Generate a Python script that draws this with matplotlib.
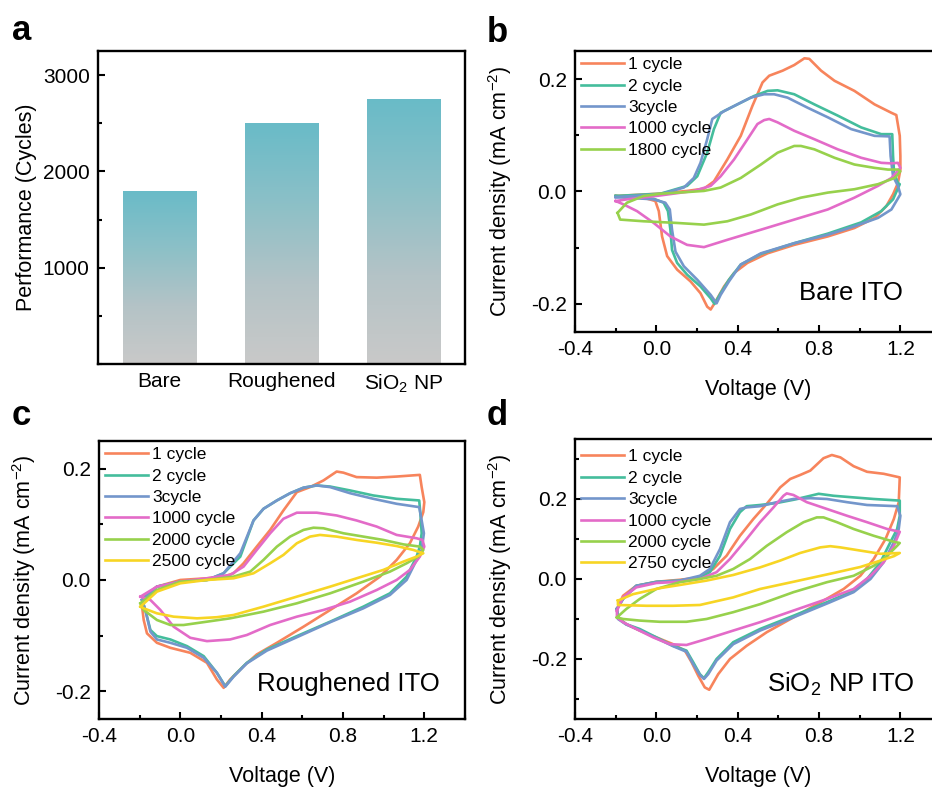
import numpy as np
import matplotlib
matplotlib.use("Agg")
import matplotlib.pyplot as plt
from matplotlib.colors import LinearSegmentedColormap
from matplotlib.ticker import MultipleLocator, FormatStrFormatter

plt.rcParams['font.family'] = ['Liberation Sans', 'DejaVu Sans']
plt.rcParams['mathtext.fontset'] = 'custom'
plt.rcParams['mathtext.rm'] = 'Liberation Sans'
plt.rcParams['mathtext.it'] = 'Liberation Sans:italic'
plt.rcParams['mathtext.bf'] = 'Liberation Sans:bold'
plt.rcParams['axes.unicode_minus'] = False

# (a) cycling performance
samples = ['Bare', 'Roughened', 'SiO$_2$ NP']
performance = [1800, 2500, 2750]

# (b) bare ITO, CV loops (V, mA cm-2)
b_v1 = [-0.2, 0.003, 0.151, 0.234, 0.283, 0.349, 0.415, 0.472, 0.522, 0.555, 0.621, 0.678, 0.728, 0.752, 0.810, 0.876, 0.974, 1.073, 1.156, 1.180, 1.197, 1.2, 1.2, 1.188, 1.164, 1.131, 1.073, 0.974, 0.843, 0.678, 0.547, 0.448, 0.382, 0.333, 0.291, 0.267, 0.250, 0.217, 0.168, 0.102, 0.053, 0.028, 0.012, -0.005, -0.063, -0.145, -0.2]
b_j1 = [-0.008, -0.004, 0.001, 0.005, 0.018, 0.057, 0.099, 0.152, 0.194, 0.206, 0.215, 0.225, 0.237, 0.236, 0.215, 0.197, 0.179, 0.155, 0.140, 0.136, 0.099, 0.063, 0.039, 0.015, -0.005, -0.026, -0.047, -0.065, -0.080, -0.095, -0.110, -0.127, -0.145, -0.169, -0.196, -0.210, -0.205, -0.181, -0.160, -0.139, -0.115, -0.080, -0.035, -0.017, -0.011, -0.011, -0.008]
b_v2 = [-0.2, 0.020, 0.151, 0.201, 0.250, 0.283, 0.316, 0.349, 0.415, 0.481, 0.547, 0.596, 0.678, 0.777, 0.892, 1.007, 1.106, 1.160, 1.164, 1.169, 1.188, 1.197, 1.164, 1.106, 1.007, 0.843, 0.678, 0.514, 0.415, 0.357, 0.316, 0.286, 0.267, 0.217, 0.151, 0.102, 0.077, 0.069, 0.057, 0.036, -0.013, -0.145, -0.2]
b_j2 = [-0.008, -0.004, 0.010, 0.027, 0.069, 0.111, 0.140, 0.146, 0.158, 0.170, 0.179, 0.180, 0.173, 0.155, 0.135, 0.114, 0.102, 0.102, 0.063, 0.033, 0.015, 0.013, -0.014, -0.035, -0.055, -0.075, -0.092, -0.111, -0.130, -0.157, -0.181, -0.200, -0.190, -0.169, -0.148, -0.127, -0.104, -0.068, -0.035, -0.020, -0.013, -0.010, -0.008]
b_v3 = [-0.2, 0.020, 0.135, 0.184, 0.217, 0.250, 0.275, 0.333, 0.398, 0.464, 0.530, 0.579, 0.645, 0.744, 0.843, 0.958, 1.073, 1.147, 1.152, 1.164, 1.188, 1.2, 1.156, 1.090, 0.974, 0.843, 0.678, 0.514, 0.415, 0.357, 0.316, 0.296, 0.267, 0.201, 0.135, 0.094, 0.077, 0.066, 0.044, -0.013, -0.145, -0.2]
b_j3 = [-0.010, -0.005, 0.007, 0.024, 0.051, 0.093, 0.129, 0.143, 0.155, 0.167, 0.173, 0.173, 0.167, 0.149, 0.132, 0.111, 0.099, 0.098, 0.063, 0.027, 0.010, -0.005, -0.032, -0.047, -0.062, -0.077, -0.092, -0.110, -0.130, -0.160, -0.184, -0.199, -0.184, -0.157, -0.133, -0.107, -0.068, -0.032, -0.020, -0.014, -0.011, -0.010]
b_v1000 = [-0.2, -0.145, 0.020, 0.184, 0.267, 0.316, 0.382, 0.448, 0.497, 0.530, 0.555, 0.596, 0.678, 0.777, 0.892, 1.007, 1.106, 1.156, 1.188, 1.2, 1.156, 1.090, 0.974, 0.843, 0.678, 0.514, 0.349, 0.234, 0.151, 0.069, -0.013, -0.095, -0.161, -0.2]
b_j1000 = [-0.017, -0.014, -0.007, 0.001, 0.010, 0.027, 0.057, 0.093, 0.120, 0.127, 0.129, 0.123, 0.108, 0.093, 0.075, 0.060, 0.051, 0.050, 0.051, 0.042, 0.024, 0.010, -0.011, -0.032, -0.050, -0.068, -0.086, -0.099, -0.095, -0.080, -0.056, -0.035, -0.023, -0.017]
b_v1800 = [-0.191, -0.145, -0.063, 0.020, 0.151, 0.234, 0.316, 0.415, 0.514, 0.596, 0.678, 0.711, 0.777, 0.876, 0.974, 1.073, 1.139, 1.188, 1.2, 1.172, 1.090, 0.974, 0.843, 0.711, 0.596, 0.464, 0.349, 0.234, 0.102, -0.063, -0.178, -0.191]
b_j1800 = [-0.038, -0.020, -0.008, -0.004, -0.001, 0.001, 0.007, 0.024, 0.048, 0.069, 0.081, 0.081, 0.075, 0.060, 0.048, 0.042, 0.039, 0.039, 0.036, 0.024, 0.013, 0.004, -0.002, -0.011, -0.023, -0.041, -0.053, -0.059, -0.056, -0.053, -0.050, -0.038]

# (c) roughened ITO
c_v1 = [-0.180, -0.115, 0.0, 0.131, 0.213, 0.262, 0.311, 0.376, 0.442, 0.507, 0.573, 0.638, 0.704, 0.769, 0.802, 0.867, 0.966, 1.064, 1.178, 1.187, 1.2, 1.195, 1.170, 1.129, 1.064, 0.982, 0.867, 0.737, 0.606, 0.475, 0.376, 0.311, 0.245, 0.213, 0.180, 0.131, 0.049, -0.049, -0.115, -0.164, -0.180, -0.188, -0.180]
c_j1 = [-0.030, -0.012, 0.0, 0.003, 0.006, 0.012, 0.030, 0.060, 0.090, 0.125, 0.158, 0.167, 0.179, 0.195, 0.193, 0.185, 0.184, 0.186, 0.189, 0.167, 0.140, 0.122, 0.096, 0.066, 0.036, 0.006, -0.024, -0.054, -0.084, -0.113, -0.134, -0.155, -0.179, -0.194, -0.179, -0.149, -0.131, -0.122, -0.113, -0.096, -0.072, -0.048, -0.030]
c_v2 = [-0.188, -0.115, 0.0, 0.131, 0.213, 0.295, 0.360, 0.409, 0.475, 0.540, 0.606, 0.671, 0.737, 0.835, 0.949, 1.064, 1.175, 1.182, 1.187, 1.178, 1.162, 1.113, 1.031, 0.900, 0.737, 0.573, 0.426, 0.327, 0.262, 0.221, 0.180, 0.115, 0.033, -0.049, -0.115, -0.147, -0.172, -0.188]
c_j2 = [-0.036, -0.012, -0.003, 0.0, 0.012, 0.042, 0.107, 0.128, 0.143, 0.156, 0.166, 0.170, 0.168, 0.161, 0.152, 0.146, 0.143, 0.113, 0.084, 0.060, 0.042, 0.006, -0.024, -0.048, -0.075, -0.101, -0.125, -0.149, -0.173, -0.191, -0.167, -0.137, -0.119, -0.107, -0.101, -0.090, -0.054, -0.036]
c_v3 = [-0.188, -0.115, 0.0, 0.131, 0.213, 0.295, 0.360, 0.409, 0.475, 0.540, 0.606, 0.671, 0.737, 0.835, 0.949, 1.064, 1.175, 1.187, 1.198, 1.187, 1.154, 1.113, 1.031, 0.900, 0.737, 0.573, 0.426, 0.327, 0.262, 0.221, 0.180, 0.115, 0.033, -0.049, -0.115, -0.147, -0.172, -0.188]
c_j3 = [-0.036, -0.012, -0.003, 0.0, 0.012, 0.048, 0.107, 0.128, 0.143, 0.156, 0.166, 0.170, 0.167, 0.156, 0.146, 0.137, 0.131, 0.107, 0.084, 0.054, 0.030, 0.0, -0.027, -0.051, -0.076, -0.103, -0.127, -0.150, -0.174, -0.192, -0.167, -0.140, -0.122, -0.113, -0.107, -0.093, -0.054, -0.036]
c_v1000 = [-0.196, -0.115, 0.0, 0.131, 0.245, 0.311, 0.376, 0.442, 0.507, 0.573, 0.671, 0.769, 0.867, 0.966, 1.064, 1.162, 1.191, 1.2, 1.178, 1.129, 1.064, 0.966, 0.835, 0.704, 0.573, 0.442, 0.327, 0.245, 0.131, 0.049, -0.033, -0.098, -0.147, -0.196]
c_j1000 = [-0.030, -0.012, -0.003, 0.003, 0.009, 0.024, 0.054, 0.084, 0.110, 0.121, 0.121, 0.116, 0.107, 0.096, 0.081, 0.075, 0.072, 0.060, 0.042, 0.018, 0.0, -0.018, -0.039, -0.054, -0.066, -0.081, -0.099, -0.107, -0.110, -0.104, -0.084, -0.054, -0.036, -0.030]
c_v2000 = [-0.196, -0.115, 0.0, 0.131, 0.262, 0.344, 0.409, 0.475, 0.540, 0.606, 0.655, 0.704, 0.802, 0.900, 0.998, 1.097, 1.178, 1.195, 1.170, 1.113, 1.031, 0.900, 0.737, 0.573, 0.409, 0.245, 0.131, 0.016, -0.049, -0.115, -0.180, -0.196]
c_j2000 = [-0.042, -0.018, -0.003, 0.0, 0.006, 0.015, 0.036, 0.060, 0.078, 0.090, 0.094, 0.093, 0.084, 0.078, 0.072, 0.064, 0.060, 0.054, 0.042, 0.030, 0.015, -0.003, -0.024, -0.042, -0.057, -0.069, -0.075, -0.081, -0.081, -0.072, -0.054, -0.042]
c_v2500 = [-0.196, -0.115, 0.0, 0.131, 0.262, 0.360, 0.442, 0.507, 0.573, 0.638, 0.687, 0.769, 0.867, 0.966, 1.064, 1.146, 1.195, 1.162, 1.097, 0.998, 0.867, 0.737, 0.573, 0.409, 0.262, 0.180, 0.082, -0.033, -0.115, -0.180, -0.196]
c_j2500 = [-0.048, -0.021, -0.006, 0.0, 0.003, 0.012, 0.030, 0.045, 0.066, 0.078, 0.081, 0.078, 0.072, 0.067, 0.061, 0.054, 0.048, 0.042, 0.033, 0.018, 0.003, -0.012, -0.030, -0.048, -0.063, -0.067, -0.069, -0.066, -0.060, -0.051, -0.048]

# (d) SiO2 NP ITO
d_v1 = [-0.194, -0.164, -0.099, 0.0, 0.115, 0.214, 0.280, 0.345, 0.411, 0.477, 0.543, 0.609, 0.658, 0.707, 0.757, 0.822, 0.863, 0.905, 0.970, 1.036, 1.118, 1.197, 1.192, 1.168, 1.127, 1.069, 1.003, 0.921, 0.822, 0.674, 0.543, 0.444, 0.362, 0.304, 0.260, 0.238, 0.206, 0.173, 0.140, 0.082, 0.0, -0.082, -0.148, -0.189, -0.194]
d_j1 = [-0.075, -0.042, -0.017, -0.007, -0.002, 0.004, 0.025, 0.058, 0.108, 0.150, 0.188, 0.229, 0.250, 0.260, 0.271, 0.302, 0.310, 0.304, 0.282, 0.268, 0.263, 0.254, 0.192, 0.150, 0.100, 0.050, 0.008, -0.025, -0.054, -0.096, -0.133, -0.167, -0.200, -0.238, -0.277, -0.271, -0.242, -0.208, -0.179, -0.163, -0.146, -0.129, -0.113, -0.096, -0.075]
d_v2 = [-0.194, -0.164, -0.099, 0.0, 0.115, 0.214, 0.263, 0.313, 0.362, 0.411, 0.444, 0.510, 0.592, 0.674, 0.757, 0.798, 0.872, 0.970, 1.069, 1.197, 1.197, 1.184, 1.151, 1.102, 1.036, 0.954, 0.839, 0.674, 0.510, 0.378, 0.296, 0.255, 0.234, 0.214, 0.181, 0.148, 0.082, 0.0, -0.082, -0.148, -0.189, -0.194]
d_j2 = [-0.075, -0.050, -0.017, -0.007, -0.004, 0.004, 0.017, 0.058, 0.125, 0.167, 0.182, 0.185, 0.190, 0.198, 0.208, 0.213, 0.208, 0.204, 0.200, 0.196, 0.158, 0.125, 0.092, 0.042, 0.0, -0.033, -0.058, -0.092, -0.125, -0.158, -0.200, -0.233, -0.248, -0.238, -0.208, -0.179, -0.167, -0.146, -0.125, -0.113, -0.098, -0.075]
d_v3 = [-0.194, -0.164, -0.099, 0.0, 0.115, 0.214, 0.263, 0.313, 0.362, 0.411, 0.444, 0.510, 0.592, 0.674, 0.757, 0.839, 0.938, 1.036, 1.184, 1.2, 1.192, 1.168, 1.118, 1.053, 0.970, 0.855, 0.674, 0.510, 0.378, 0.296, 0.255, 0.234, 0.214, 0.181, 0.148, 0.082, 0.0, -0.082, -0.148, -0.189, -0.194]
d_j3 = [-0.075, -0.050, -0.017, -0.008, -0.004, 0.008, 0.025, 0.075, 0.142, 0.175, 0.179, 0.182, 0.192, 0.200, 0.202, 0.200, 0.192, 0.185, 0.182, 0.158, 0.125, 0.092, 0.042, 0.0, -0.033, -0.058, -0.096, -0.129, -0.163, -0.204, -0.238, -0.250, -0.240, -0.213, -0.182, -0.168, -0.148, -0.128, -0.114, -0.100, -0.075]
d_v1000 = [-0.194, -0.164, -0.099, 0.0, 0.115, 0.214, 0.296, 0.362, 0.444, 0.510, 0.576, 0.625, 0.641, 0.674, 0.740, 0.839, 0.938, 1.036, 1.135, 1.197, 1.168, 1.118, 1.053, 0.970, 0.839, 0.674, 0.510, 0.378, 0.247, 0.148, 0.066, -0.016, -0.099, -0.164, -0.194, -0.194]
d_j1000 = [-0.079, -0.046, -0.021, -0.010, -0.007, 0.0, 0.017, 0.050, 0.100, 0.142, 0.179, 0.208, 0.214, 0.210, 0.192, 0.175, 0.158, 0.142, 0.125, 0.118, 0.083, 0.042, 0.008, -0.025, -0.050, -0.079, -0.108, -0.129, -0.150, -0.165, -0.163, -0.146, -0.125, -0.108, -0.096, -0.079]
d_v2000 = [-0.194, -0.148, -0.082, 0.0, 0.115, 0.214, 0.296, 0.378, 0.461, 0.543, 0.641, 0.724, 0.789, 0.822, 0.888, 0.970, 1.069, 1.168, 1.197, 1.184, 1.135, 1.069, 0.970, 0.839, 0.674, 0.510, 0.378, 0.247, 0.148, 0.016, -0.082, -0.164, -0.194]
d_j2000 = [-0.096, -0.075, -0.050, -0.025, -0.008, 0.0, 0.008, 0.025, 0.050, 0.083, 0.117, 0.142, 0.154, 0.154, 0.142, 0.125, 0.108, 0.093, 0.090, 0.083, 0.058, 0.033, 0.008, -0.008, -0.033, -0.063, -0.083, -0.100, -0.107, -0.107, -0.104, -0.100, -0.096]
d_v2750 = [-0.189, -0.115, 0.016, 0.115, 0.247, 0.378, 0.510, 0.609, 0.707, 0.806, 0.855, 0.905, 1.003, 1.102, 1.197, 1.168, 1.102, 1.003, 0.872, 0.674, 0.510, 0.378, 0.214, 0.082, -0.049, -0.189, -0.189]
d_j2750 = [-0.054, -0.038, -0.023, -0.015, -0.004, 0.010, 0.029, 0.046, 0.065, 0.079, 0.082, 0.079, 0.071, 0.063, 0.065, 0.057, 0.046, 0.030, 0.015, -0.007, -0.025, -0.046, -0.065, -0.067, -0.067, -0.065, -0.054]

ORANGE = '#F7845C'
TEAL = '#44BD9C'
BLUE = '#7396CB'
PINK = '#E36BC8'
GREEN = '#97D14C'
YELLOW = '#F7D524'

fig = plt.figure(figsize=(9.32, 7.88), dpi=100)

ax_a = fig.add_axes([0.1052, 0.5381, 0.3938, 0.3972])
ax_b = fig.add_axes([0.6170, 0.5787, 0.3927, 0.3566])
ax_c = fig.add_axes([0.1062, 0.0876, 0.3927, 0.3528])
ax_d = fig.add_axes([0.6170, 0.0876, 0.3927, 0.3553])

TICK_FS = 15
LABEL_FS = 15.5

for ax in (ax_a, ax_b, ax_c, ax_d):
    for s in ax.spines.values():
        s.set_linewidth(1.7)
    ax.tick_params(which='both', direction='in', top=False, right=False,
                   labelsize=TICK_FS, width=1.5, pad=6)
    ax.tick_params(which='major', length=5)
    ax.tick_params(which='minor', length=3)

# --- (a) gradient bars ---
grad_cmap = LinearSegmentedColormap.from_list('tealgrey', ['#C9C9C9', '#B4C3C6', '#8CC0C7', '#69BBC8'])
xpos = np.arange(len(samples))
bars = ax_a.bar(xpos, performance, width=0.6, color='none', edgecolor='none')
grad = np.linspace(0, 1, 256).reshape(-1, 1)
for bar in bars:
    im = ax_a.imshow(grad, extent=[bar.get_x(), bar.get_x() + bar.get_width(), 0, bar.get_height()],
                     origin='lower', cmap=grad_cmap, aspect='auto', zorder=1)
    im.set_clip_path(bar)
ax_a.set_xlim(-0.5, 2.5)
ax_a.set_ylim(0, 3250)
ax_a.set_xticks(xpos)
ax_a.set_xticklabels(samples)
ax_a.tick_params(axis='x', which='both', length=0)
ax_a.yaxis.set_major_locator(MultipleLocator(1000))
ax_a.yaxis.set_minor_locator(MultipleLocator(500))
ax_a.set_yticks([1000, 2000, 3000])
ax_a.set_ylabel('Performance (Cycles)', fontsize=LABEL_FS)


def cv_axes(ax, ylim, curves, labels, note, legend_y):
    colors = [ORANGE, TEAL, BLUE, PINK, GREEN, YELLOW]
    for (v, j), lab, col in zip(curves, labels, colors):
        ax.plot(v, j, color=col, lw=1.9, label=lab, solid_joinstyle='round')
    ax.set_xlim(-0.4, 1.4)
    ax.set_ylim(*ylim)
    ax.xaxis.set_major_locator(MultipleLocator(0.4))
    ax.xaxis.set_minor_locator(MultipleLocator(0.2))
    ax.yaxis.set_major_locator(MultipleLocator(0.2))
    ax.yaxis.set_minor_locator(MultipleLocator(0.1))
    ax.xaxis.set_major_formatter(FormatStrFormatter('%.1f'))
    ax.yaxis.set_major_formatter(FormatStrFormatter('%.1f'))
    ax.set_xlabel('Voltage (V)', fontsize=LABEL_FS, labelpad=14)
    ax.set_ylabel('Current density (mA cm$^{-2}$)', fontsize=LABEL_FS, labelpad=12)
    ax.legend(loc='upper left', bbox_to_anchor=(0.0, legend_y), frameon=False,
              fontsize=12.5, handlelength=2.45, handletextpad=0.25,
              labelspacing=0.36, borderaxespad=0.0, borderpad=0.35)
    ax.text(note[0], note[1], note[2], fontsize=18.5, ha='left', va='baseline')


cv_axes(ax_b, (-0.25, 0.25),
        [(b_v1, b_j1), (b_v2, b_j2), (b_v3, b_j3), (b_v1000, b_j1000), (b_v1800, b_j1800)],
        ['1 cycle', '2 cycle', '3cycle', '1000 cycle', '1800 cycle'],
        (0.70, -0.193, 'Bare ITO'), 1.0)
cv_axes(ax_c, (-0.25, 0.25),
        [(c_v1, c_j1), (c_v2, c_j2), (c_v3, c_j3), (c_v1000, c_j1000), (c_v2000, c_j2000), (c_v2500, c_j2500)],
        ['1 cycle', '2 cycle', '3cycle', '1000 cycle', '2000 cycle', '2500 cycle'],
        (0.375, -0.2, 'Roughened ITO'), 1.0)
cv_axes(ax_d, (-0.35, 0.35),
        [(d_v1, d_j1), (d_v2, d_j2), (d_v3, d_j3), (d_v1000, d_j1000), (d_v2000, d_j2000), (d_v2750, d_j2750)],
        ['1 cycle', '2 cycle', '3cycle', '1000 cycle', '2000 cycle', '2750 cycle'],
        (0.543, -0.283, 'SiO$_2$ NP ITO'), 0.985)

for lab, x, y in [('a', 0.013, 0.949), ('b', 0.522, 0.947), ('c', 0.013, 0.461), ('d', 0.522, 0.461)]:
    fig.text(x, y, lab, fontsize=25, fontweight='bold', va='baseline')

fig.savefig('out.png', dpi=100)
